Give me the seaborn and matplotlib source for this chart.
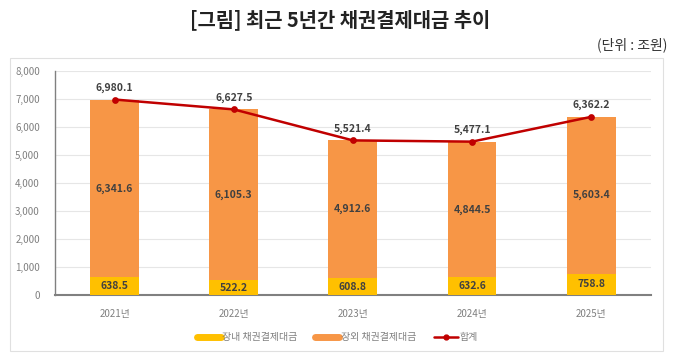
import matplotlib
matplotlib.use("Agg")
import matplotlib.pyplot as plt
import seaborn as sns
import pandas as pd
from matplotlib.patches import Rectangle
from matplotlib.lines import Line2D

years = ["2021년", "2022년", "2023년", "2024년", "2025년"]
inside = [638.5, 522.2, 608.8, 632.6, 758.8]
outside = [6341.6, 6105.3, 4912.6, 4844.5, 5603.4]
total = [6980.1, 6627.5, 5521.4, 5477.1, 6362.2]
yticks = [0, 1000, 2000, 3000, 4000, 5000, 6000, 7000, 8000]

sns.set_theme(style="white")
plt.rcParams['font.family'] = ['Noto Sans CJK KR', 'DejaVu Sans']

df = pd.DataFrame({"year": years, "inside": inside, "outside": outside, "total": total})

fig = plt.figure(figsize=(6.8, 3.53), dpi=100)
ax = fig.add_axes([0.081, 0.164, 0.876, 0.635])

YEL = "#FFC000"
ORG = "#F79646"
RED = "#C00000"

sns.barplot(data=df, x="year", y="total", color=ORG, width=0.41, saturation=1, ax=ax,
            zorder=2, linewidth=0, edgecolor="none")
sns.barplot(data=df, x="year", y="inside", color=YEL, width=0.41, saturation=1, ax=ax,
            zorder=3, linewidth=0, edgecolor="none")
sns.pointplot(data=df, x="year", y="total", color=RED, markers="o", markersize=3.5,
              linewidth=1.8, ax=ax, zorder=5)

for i in range(len(years)):
    ax.text(i, inside[i] / 2, f"{inside[i]:,.1f}", ha="center", va="center",
            fontsize=7.5, color="#404040", fontweight="bold", zorder=6)
    ax.text(i, inside[i] + outside[i] / 2, f"{outside[i]:,.1f}", ha="center", va="center",
            fontsize=7.5, color="#404040", fontweight="bold", zorder=6)
    ax.text(i, total[i] + 230, f"{total[i]:,.1f}", ha="center", va="bottom",
            fontsize=7.5, color="#404040", fontweight="bold", zorder=6)

ax.set_ylim(0, 8000)
ax.set_xlim(-0.5, 4.5)
ax.set_yticks(yticks)
ax.set_yticklabels([f"{v:,}" for v in yticks], fontsize=7, color="#808080")
ax.tick_params(axis="x", labelsize=7, labelcolor="#808080", length=0, pad=10)
ax.tick_params(axis="y", length=0, pad=11)
ax.set_xlabel("")
ax.set_ylabel("")
ax.grid(axis="y", color="#E6E6E6", linewidth=0.8, zorder=0)
ax.set_axisbelow(True)
for s in ["top", "right"]:
    ax.spines[s].set_visible(False)
ax.spines["left"].set_color("#808080")
ax.spines["left"].set_linewidth(1.0)
ax.spines["bottom"].set_color("#808080")
ax.spines["bottom"].set_linewidth(1.5)

handles = [
    Line2D([0], [0], color=YEL, linewidth=5),
    Line2D([0], [0], color=ORG, linewidth=5),
    Line2D([0], [0], color=RED, linewidth=1.8, marker="o", markersize=3.5),
]
labels = ["장내 채권결제대금", "장외 채권결제대금", "합계"]
fig.legend(handles, labels, loc="center", bbox_to_anchor=(0.496, 0.045), ncol=3,
           frameon=False, fontsize=7.2, handlelength=2.4, columnspacing=1.8,
           handletextpad=0.15, labelcolor="#808080")

fig.text(0.5, 0.945, "[그림] 최근 5년간 채권결제대금 추이", ha="center", va="center",
         fontsize=14.3, fontweight="bold", color="#222222")
fig.text(0.982, 0.873, "(단위 : 조원)", ha="right", va="center", fontsize=10, color="#333333")

fig.patches.append(Rectangle((10 / 680, 2 / 353), 653 / 680, 293 / 353, transform=fig.transFigure,
                             fill=False, edgecolor="#E0E0E0", linewidth=0.8))

fig.savefig("out.png", dpi=100)
